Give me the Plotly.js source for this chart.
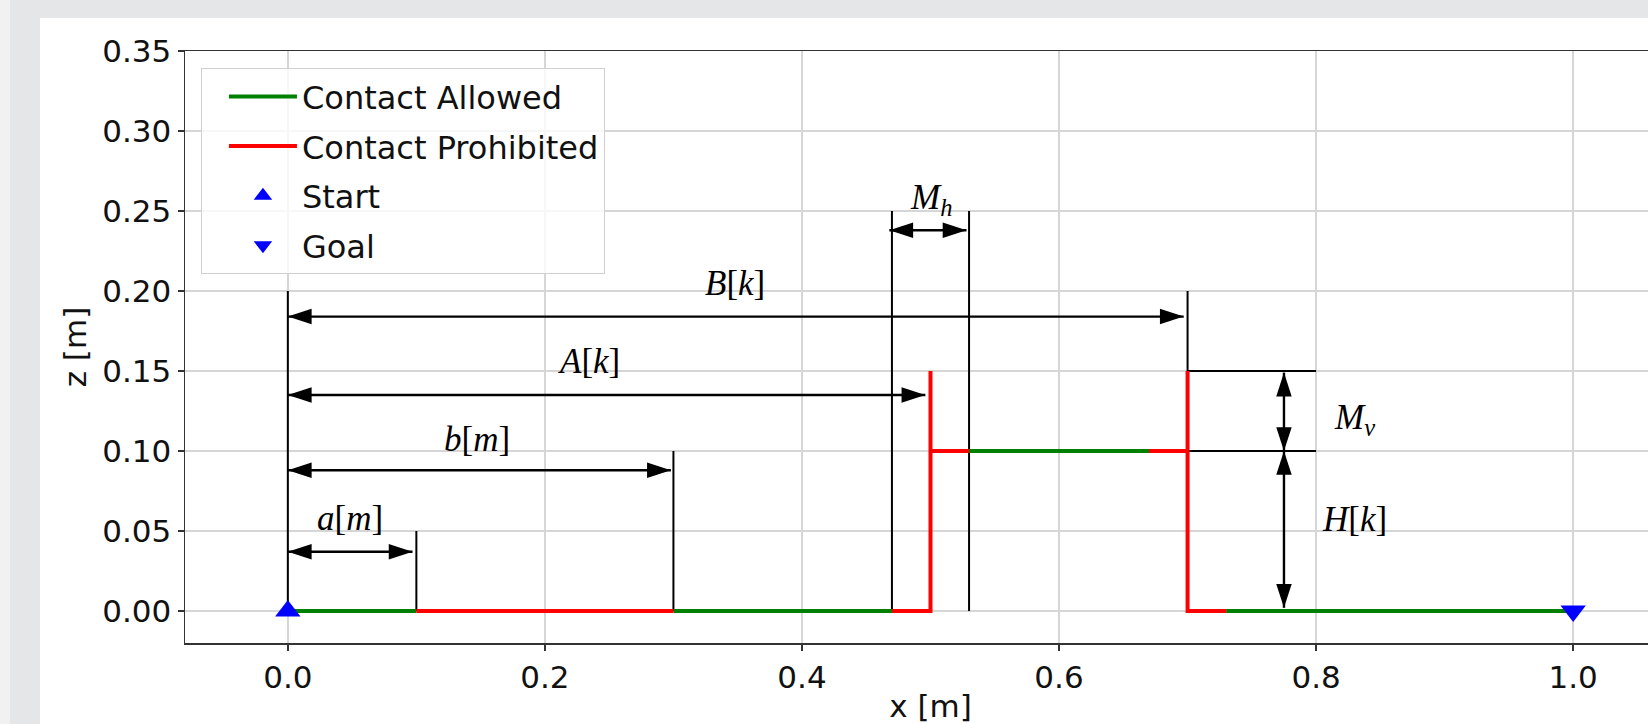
<!DOCTYPE html>
<html><head><meta charset="utf-8">
<script src="https://cdn.plot.ly/plotly-3.0.1.min.js"></script>
<style>
html,body{margin:0;padding:0;width:1648px;height:724px;overflow:hidden;background:#e5e6e8;}
#strip{position:absolute;left:0;top:0;width:10px;height:724px;background:#f1f1f2;}
#card{position:absolute;left:40px;top:18px;width:1608px;height:706px;background:#ffffff;}
#plot{position:absolute;left:0;top:0;width:1700px;height:724px;}
</style></head><body>
<div id="strip"></div><div id="card"></div><div id="plot"></div>
<script>
// ---- path segments (x [m], z [m]) ----
const allowedX    = [0, 0.1, null, 0.3, 0.47, null, 0.53, 0.67, null, 0.73, 1.0];
const allowedZ    = [0, 0,   null, 0,   0,    null, 0.1,  0.1,  null, 0,    0];
const prohibitedX = [0.1, 0.3, null, 0.47, 0.5, 0.5,  null, 0.5, 0.53, null, 0.67, 0.7, null, 0.7,  0.7, 0.73];
const prohibitedZ = [0,   0,   null, 0,    0,   0.15, null, 0.1, 0.1,  null, 0.1,  0.1, null, 0.15, 0,   0];
const startPoint = [0, 0];
const goalPoint  = [1.0, 0];

// ---- extension (witness) lines ----
const extX = [0, 0, null, 0.1, 0.1, null, 0.3, 0.3, null, 0.47, 0.47, null, 0.53, 0.53, null, 0.7, 0.7, null, 0.7, 0.8, null, 0.7, 0.8];
const extZ = [0, 0.2, null, 0, 0.05, null, 0, 0.1, null, 0, 0.25, null, 0, 0.25, null, 0, 0.2, null, 0.15, 0.15, null, 0.1, 0.1];

// ---- horizontal dimension arrows ----
const hDimX0 = [0, 0, 0, 0, 0.468];
const hDimX1 = [0.097, 0.298, 0.496, 0.697, 0.528];
const hDimZ  = [0.037, 0.088, 0.135, 0.184, 0.238];
// ---- vertical dimension arrows ----
const vDimX  = [0.775, 0.775];
const vDimZ0 = [0.1, 0.002];
const vDimZ1 = [0.149, 0.1];

// ---- labels ----
const labelText = ['<i>a</i>[<i>m</i>]', '<i>b</i>[<i>m</i>]', '<i>A</i>[<i>k</i>]', '<i>B</i>[<i>k</i>]',
                   '<i>M</i><sub><i>h</i></sub>', '<i>M</i><sub><i>v</i></sub>', '<i>H</i>[<i>k</i>]'];
const labelX = [0.048, 0.147, 0.234, 0.348, 0.500, 0.830, 0.830];
const labelZ = [0.058, 0.107, 0.156, 0.205, 0.257, 0.120, 0.057];

// ---- axes ----
const xTicks = [0, 0.2, 0.4, 0.6, 0.8, 1.0];
const zTicks = [0, 0.05, 0.1, 0.15, 0.2, 0.25, 0.3, 0.35];

// build shaft and arrowhead arrays
const shaftX = [], shaftZ = [], tipX = [], tipZ = [], tipAngle = [];
hDimX0.forEach((x0, i) => {
  shaftX.push(x0, hDimX1[i], null); shaftZ.push(hDimZ[i], hDimZ[i], null);
  tipX.push(x0, hDimX1[i]); tipZ.push(hDimZ[i], hDimZ[i]); tipAngle.push(-90, 90);
});
vDimX.forEach((x, i) => {
  shaftX.push(x, x, null); shaftZ.push(vDimZ0[i], vDimZ1[i], null);
  tipX.push(x, x); tipZ.push(vDimZ0[i], vDimZ1[i]); tipAngle.push(180, 0);
});

const FONT = 'DejaVu Sans, sans-serif';
const traces = [
  {x: extX, y: extZ, mode: 'lines', line: {color: '#000', width: 2}, showlegend: false, hoverinfo: 'skip'},
  {x: shaftX, y: shaftZ, mode: 'lines', line: {color: '#000', width: 2.4}, showlegend: false, hoverinfo: 'skip'},
  {x: tipX, y: tipZ, mode: 'markers', marker: {symbol: 'arrow', size: 25, angle: tipAngle, color: '#000', line: {width: 0}}, showlegend: false, hoverinfo: 'skip'},
  {x: allowedX, y: allowedZ, mode: 'lines', name: 'Contact Allowed', legendgroup: 'g1', line: {color: '#008000', width: 4}},
  {x: prohibitedX, y: prohibitedZ, mode: 'lines', name: 'Contact Prohibited', legendgroup: 'g2', line: {color: '#ff0000', width: 4}},
  {x: [startPoint[0]], y: [startPoint[1]], mode: 'markers', name: 'Start', legendgroup: 'g3', marker: {symbol: 'triangle-up', size: 22, color: '#0000ff'}},
  {x: [goalPoint[0]], y: [goalPoint[1]], mode: 'markers', name: 'Goal', legendgroup: 'g4', marker: {symbol: 'triangle-down', size: 22, color: '#0000ff'}}
];

const annotations = labelText.map((t, i) => ({
  x: labelX[i], y: labelZ[i], xref: 'x', yref: 'y', text: t, showarrow: false,
  xanchor: 'center', yanchor: 'middle',
  font: {family: 'Liberation Serif, serif', size: 35, color: '#000'}
}));

const axisCommon = {
  showgrid: true, gridcolor: '#d6d6d6', gridwidth: 1.5, zeroline: false,
  showline: true, linecolor: '#333', linewidth: 1.5, mirror: true,
  ticks: 'outside', ticklen: 6, tickwidth: 1.5, tickcolor: '#333',
  tickfont: {family: FONT, size: 31, color: '#111'}
};

const layout = {
  width: 1700, height: 724,
  margin: {l: 185, r: 24, t: 51, b: 81},
  paper_bgcolor: 'rgba(0,0,0,0)', plot_bgcolor: 'rgba(0,0,0,0)',
  showlegend: true,
  legend: {
    x: 0.0107, y: 0.971, xanchor: 'left', yanchor: 'top',
    bgcolor: 'rgba(255,255,255,0.8)', bordercolor: '#d0d0d0', borderwidth: 1,
    font: {family: FONT, size: 32, color: '#111'},
    itemwidth: 68, indentation: 22, tracegroupgap: 5, traceorder: 'grouped',
    entrywidth: 325
  },
  xaxis: Object.assign({}, axisCommon, {
    range: [-0.08, 1.08], tickvals: xTicks, ticktext: xTicks.map(v => v.toFixed(1)),
    title: {text: 'x [m]', font: {family: FONT, size: 31, color: '#111'}, standoff: 8}
  }),
  yaxis: Object.assign({}, axisCommon, {
    range: [-0.02, 0.35], tickvals: zTicks, ticktext: zTicks.map(v => v.toFixed(2)),
    title: {text: 'z [m]', font: {family: FONT, size: 31, color: '#111'}, standoff: 6}
  }),
  annotations: annotations
};

Plotly.newPlot('plot', traces, layout, {displayModeBar: false, staticPlot: true});
</script>
</body></html>
